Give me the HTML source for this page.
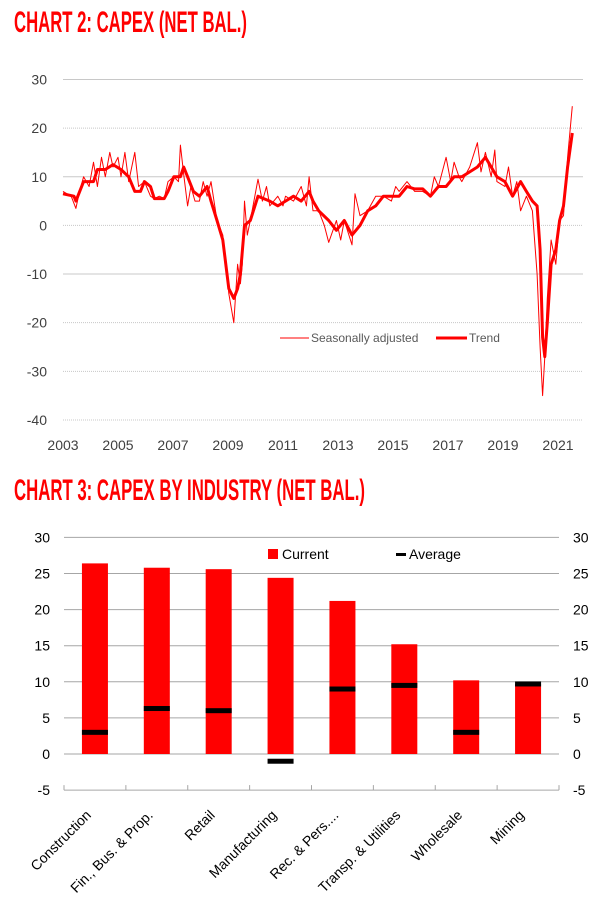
<!DOCTYPE html>
<html><head><meta charset="utf-8"><style>
body{margin:0;background:#fff;}
svg{display:block;font-family:"Liberation Sans",sans-serif;}
.title{font-weight:bold;fill:#ff0000;font-size:30px;}
.tick{fill:#404040;font-size:14px;}
</style></head><body>
<svg width="608" height="903" id="svg">
<g><text class="title" x="14" y="32" textLength="233" lengthAdjust="spacingAndGlyphs">CHART 2: CAPEX (NET BAL.)</text></g>
<g><text class="title" x="14" y="500" textLength="351" lengthAdjust="spacingAndGlyphs">CHART 3: CAPEX BY INDUSTRY (NET BAL.)</text></g>
<g id="c2"></g><g id="c3"></g>
</svg>
<script>
// Chart 2 data
const trendYears=[2003.00,2003.40,2003.47,2003.75,2004.11,2004.25,2004.54,2004.82,2005.11,2005.39,2005.61,2005.82,2005.96,2006.18,2006.32,2006.68,2006.82,2007.03,2007.27,2007.39,2007.53,2007.74,2007.96,2008.24,2008.38,2008.60,2008.81,2009.03,2009.21,2009.35,2009.45,2009.60,2009.81,2010.09,2010.52,2010.81,2011.09,2011.38,2011.66,2011.95,2012.09,2012.30,2012.66,2012.94,2013.23,2013.51,2013.80,2014.08,2014.37,2014.65,2014.94,2015.22,2015.51,2015.79,2016.08,2016.36,2016.65,2016.93,2017.22,2017.50,2017.79,2018.07,2018.36,2018.57,2018.78,2019.07,2019.35,2019.64,2019.85,2020.07,2020.24,2020.35,2020.44,2020.52,2020.61,2020.75,2020.92,2021.06,2021.20,2021.35,2021.52];
const trendValues=[6.5,6,5,9,9,11.5,11.5,12.5,11.5,10,7,7,9,8,5.5,5.5,7,10,10,12,10,7,6,8,5,1,-3,-13,-15,-13,-10,0,1,6,5,4,5,6,5,7,5,3,1,-1,1,-2,0,3,4,6,6,6,8,7.5,7.5,6,8,8,10,10,11,12,14,12,10,9,6,9,7,5,4,-5,-23,-27,-20,-8,-5,1,4,12,19];
const saYears=[2003.00,2003.30,2003.47,2003.60,2003.75,2003.95,2004.11,2004.25,2004.40,2004.54,2004.70,2004.82,2005.00,2005.11,2005.25,2005.39,2005.61,2005.75,2005.96,2006.18,2006.32,2006.50,2006.68,2006.82,2007.03,2007.20,2007.27,2007.40,2007.53,2007.65,2007.80,2007.96,2008.10,2008.24,2008.38,2008.60,2008.81,2009.03,2009.21,2009.35,2009.45,2009.52,2009.60,2009.70,2009.81,2010.09,2010.25,2010.40,2010.52,2010.81,2011.00,2011.09,2011.38,2011.66,2011.85,2011.95,2012.09,2012.30,2012.50,2012.66,2012.94,2013.10,2013.23,2013.51,2013.62,2013.80,2014.08,2014.37,2014.65,2014.94,2015.10,2015.22,2015.51,2015.79,2016.08,2016.36,2016.50,2016.65,2016.93,2017.10,2017.22,2017.40,2017.50,2017.79,2018.07,2018.20,2018.36,2018.57,2018.70,2018.78,2019.07,2019.20,2019.35,2019.50,2019.64,2019.85,2020.07,2020.24,2020.35,2020.44,2020.52,2020.61,2020.75,2020.92,2021.06,2021.20,2021.35,2021.52];
const saValues=[7,6,3.5,7,10,8,13,8,14,10,15,12,14,10,15,9,15,8,9,6,5.5,6,5.5,9,10,9,16.5,10,4,8,5,5,9,6,9,1,-2,-14,-20,-8,-12,-8,5,-2,1,9.5,5,8,4,6,4,6,5,8,4,10,3,3,0,-3.5,1,-3,1,-4,6.5,2,3,6,6,5,8,7,9,7,7,6,10,8,14,9,13,10,9,12,17,11,15,10,15.5,9,8,12,6,9,3,6,3,-10,-25,-35,-27,-15,-3,-8,1,2,14,24.5];
const yTicks2=[30,20,10,0,-10,-20,-30,-40];
const yearLabels=["2003","2005","2007","2009","2011","2013","2015","2017","2019","2021"];
// Chart 3 data
const categories=["Construction","Fin., Bus. & Prop.","Retail","Manufacturing","Rec. & Pers....","Transp. & Utilities","Wholesale","Mining"];
const currentValues=[26.4,25.8,25.6,24.4,21.2,15.2,10.2,9.7];
const averageValues=[3,6.3,6,-1,9,9.5,3,9.7];
const yTicks3=[30,25,20,15,10,5,0,-5];

const NS="http://www.w3.org/2000/svg";
function mk(p,tag,attrs,txt){const e=document.createElementNS(NS,tag);for(const k in attrs)e.setAttribute(k,attrs[k]);if(txt!=null)e.textContent=txt;p.appendChild(e);return e;}

// chart 2
const c2=document.getElementById('c2');
const X2=t=>63+(t-2003)*27.5;
const Y2=v=>225.4-v*4.864;
yTicks2.forEach(v=>{
  const l=mk(c2,'line',{x1:63,x2:583,y1:Y2(v),y2:Y2(v),stroke:'#c8c8c8','stroke-width':1,'stroke-dasharray':v==30||v==10||v==-10?'':'1 1'});
  
  
  const t=mk(c2,'text',{x:47,y:Y2(v)+5,'text-anchor':'end',class:'tick'},String(v));
  
  
});
yearLabels.forEach((s,i)=>{
  const t=mk(c2,'text',{x:X2(+s),y:450,'text-anchor':'middle',class:'tick'},s);
  
  
});
const pathOf=(xs,vs)=>xs.map((x,i)=>(i?'L':'M')+X2(x).toFixed(1)+','+Y2(vs[i]).toFixed(1)).join('');
const sa=mk(c2,'path',{d:pathOf(saYears,saValues),fill:'none',stroke:'#ff0000','stroke-width':1,'stroke-linejoin':'round'});


const tr=mk(c2,'path',{d:pathOf(trendYears,trendValues),fill:'none',stroke:'#ff0000','stroke-width':3,'stroke-linejoin':'round'});


const lg2=mk(c2,'g',{});


mk(lg2,'line',{x1:280,x2:309,y1:338,y2:338,stroke:'#ff0000','stroke-width':1});
mk(lg2,'text',{x:311,y:342,fill:'#595959','font-size':12},'Seasonally adjusted');
mk(lg2,'line',{x1:436,x2:467,y1:338,y2:338,stroke:'#ff0000','stroke-width':3});
mk(lg2,'text',{x:469,y:342,fill:'#595959','font-size':12},'Trend');

// chart 3
const c3=document.getElementById('c3');
const Y3=v=>754-v*7.22;
const L=64,R=559,bw=(R-L)/categories.length;
const CX=i=>L+bw*(i+0.5);
yTicks3.forEach(v=>{
  const l=mk(c3,'line',{x1:L,x2:R,y1:Y3(v),y2:Y3(v),stroke:'#a6a6a6','stroke-width':1});
  
  
  const t=mk(c3,'text',{x:50,y:Y3(v)+5,'text-anchor':'end',fill:'#000','font-size':14},String(v));
  
  
  const t2=mk(c3,'text',{x:573,y:Y3(v)+5,fill:'#000','font-size':14},String(v));
  
  
});
for(let i=0;i<=categories.length;i++){
  mk(c3,'line',{x1:L+bw*i,x2:L+bw*i,y1:Y3(-5)-5,y2:Y3(-5),stroke:'#a6a6a6'});
}
categories.forEach((c,i)=>{
  const b=mk(c3,'rect',{x:CX(i)-13,width:26,y:Math.min(Y3(currentValues[i]),Y3(0)),height:Math.abs(Y3(0)-Y3(currentValues[i])),fill:'#ff0000'});
  
  
  const a=mk(c3,'rect',{x:CX(i)-13,width:26,y:Y3(averageValues[i])-2.5,height:5,fill:'#000'});
  
  
  const x=CX(i)-3, y=816;
  const t=mk(c3,'text',{x:x,y:y,'text-anchor':'end','font-size':14,fill:'#000',transform:`rotate(-45 ${x} ${y})`},c);
  
  
});
const lg3=mk(c3,'g',{});


mk(lg3,'rect',{x:268,y:549,width:10,height:10,fill:'#ff0000'});
mk(lg3,'text',{x:282,y:559,'font-size':14,fill:'#000'},'Current');
mk(lg3,'rect',{x:396,y:553,width:10,height:3,fill:'#000'});
mk(lg3,'text',{x:409,y:559,'font-size':14,fill:'#000'},'Average');
</script>
</body></html>
